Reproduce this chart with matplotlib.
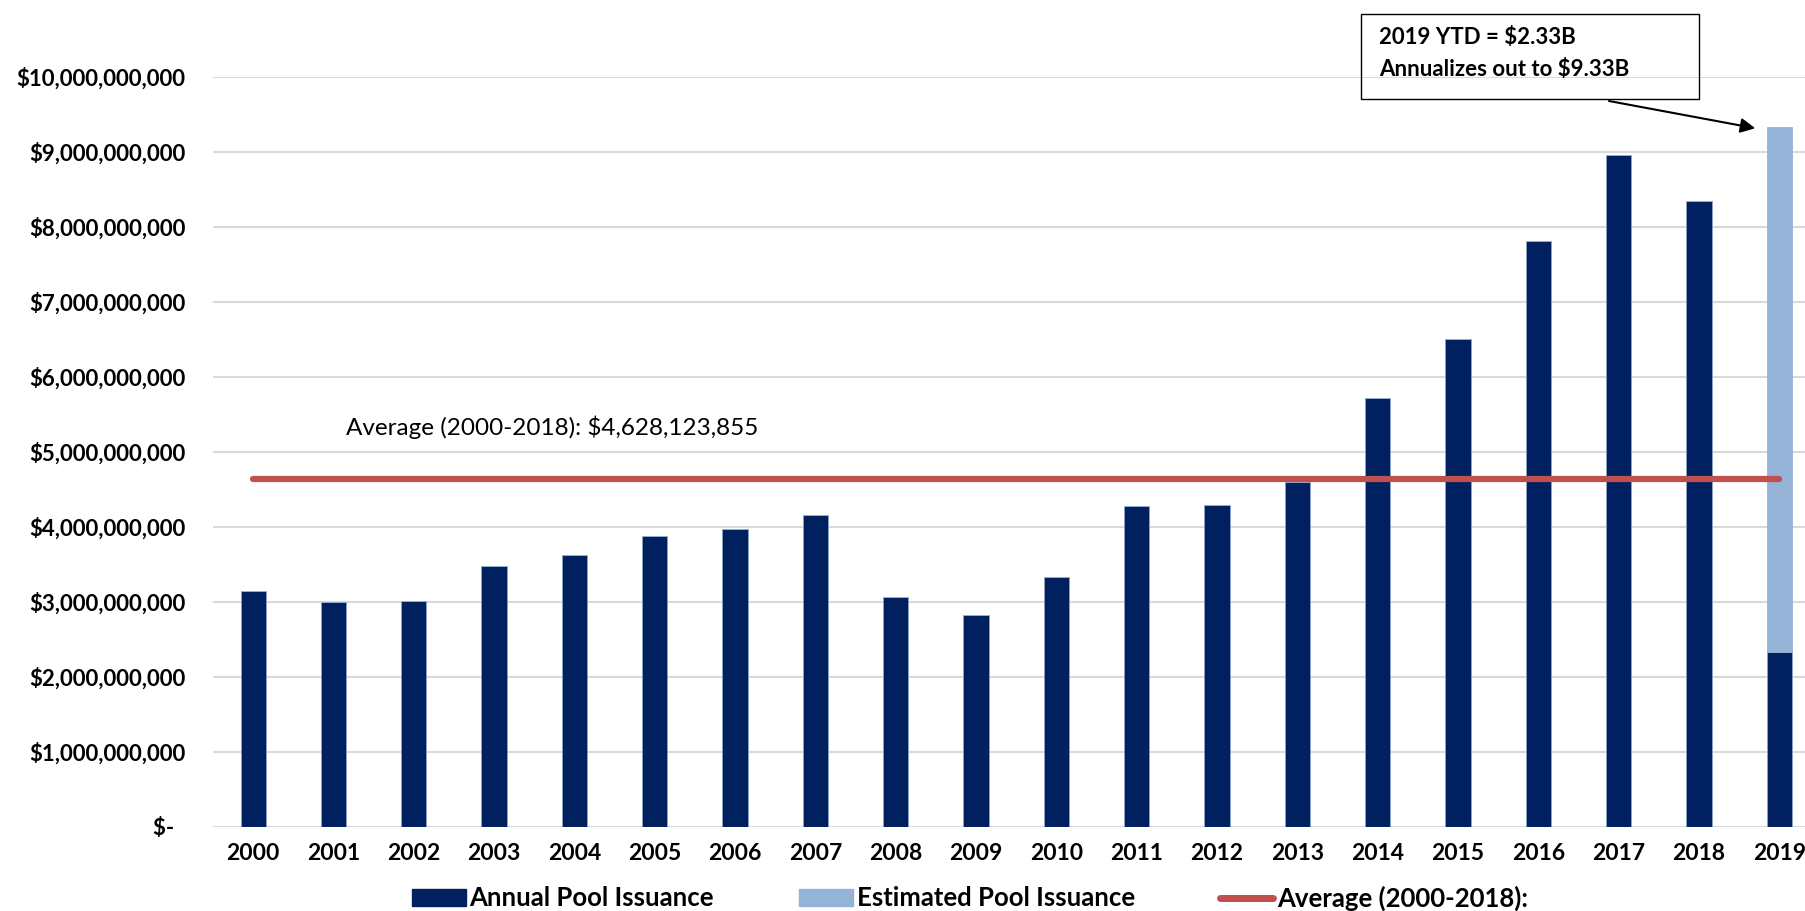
import matplotlib
matplotlib.use("Agg")
import matplotlib.pyplot as plt
from matplotlib.patches import Patch, Rectangle
from matplotlib.lines import Line2D
import numpy as np

years = [str(y) for y in range(2000, 2020)]
annual = [3.14e9, 2.99e9, 3.01e9, 3.47e9, 3.62e9, 3.87e9, 3.97e9, 4.16e9, 3.06e9, 2.82e9,
          3.33e9, 4.27e9, 4.29e9, 4.60e9, 5.72e9, 6.50e9, 7.81e9, 8.95e9, 8.34e9, 2.33e9]
estimated = [0, 0, 0, 0, 0, 0, 0, 0, 0, 0, 0, 0, 0, 0, 0, 0, 0, 0, 0, 7.00e9]
average = 4628123855
yticks = [0, 1e9, 2e9, 3e9, 4e9, 5e9, 6e9, 7e9, 8e9, 9e9, 10e9]
avg_label = "Average (2000-2018): $4,628,123,855"
note_lines = ["2019 YTD = $2.33B", "Annualizes out to $9.33B"]

DARK = "#012060"
LIGHT = "#95B3D7"
RED = "#C0504D"
GRID = "#D9D9D9"

plt.rcParams['font.family'] = ['Lato', 'DejaVu Sans']

W, H = 1805, 911
fig = plt.figure(figsize=(W / 100, H / 100), dpi=100)
ax = fig.add_axes([213 / W, 1 - 826.5 / H, 1 - 213 / W, (826.5 - 76.5) / H])

x = np.arange(len(years))
bw = 0.315
ax.bar(x, annual, width=bw, color=DARK, edgecolor="#8EA3C8", linewidth=0.6, zorder=3)
ax.bar(x, estimated, width=bw, bottom=annual, color=LIGHT, edgecolor=LIGHT, linewidth=0.6, zorder=3)
ax.plot([0, len(years) - 1], [average, average], color=RED, lw=4.5, solid_capstyle='round', zorder=4)

ax.set_xlim(-0.5, (W - 253.7) / 80.3)
ax.set_ylim(0, 10e9)
ax.set_yticks(yticks)
ax.set_yticklabels(["$-  "] + [f"${v:,.0f}" for v in yticks[1:]])
ax.set_xticks(x)
ax.set_xticklabels(years)
ax.grid(axis='y', color=GRID, lw=1.5, zorder=0)
ax.set_axisbelow(True)
for s in ax.spines.values():
    s.set_visible(False)
ax.tick_params(axis='both', length=0)
ax.tick_params(axis='y', pad=20, labelsize=16)
ax.tick_params(axis='x', pad=12, labelsize=16.5)
for lbl in ax.get_xticklabels() + ax.get_yticklabels():
    lbl.set_fontweight('bold')

ax.text(1.16, 5.33e9, avg_label, fontsize=17.5, va='center', ha='left', color='black')

# annotation box
fig.add_artist(Rectangle((1361 / W, 1 - 99 / H), (1699 - 1361) / W, 85 / H,
                         transform=fig.transFigure, fill=False, ec='black', lw=1))
fig.text(1379 / W, 1 - 37 / H, note_lines[0], fontsize=16, fontweight='bold', va='center', ha='left')
fig.text(1379 / W, 1 - 69 / H, note_lines[1], fontsize=16, fontweight='bold', va='center', ha='left')
ax.annotate("", xy=(18.70, 9.31e9), xycoords='data', xytext=(1609, H - 101),
            textcoords='figure pixels', annotation_clip=False,
            arrowprops=dict(arrowstyle='-|>', color='black', lw=1.5, mutation_scale=22,
                            shrinkA=0, shrinkB=0))

handles = [Patch(color=DARK), Patch(color=LIGHT), Line2D([], [], color=RED, lw=5, solid_capstyle='round')]
labels = ["Annual Pool Issuance", "Estimated Pool Issuance", "Average (2000-2018):"]
leg = fig.legend(handles, labels, loc='center', bbox_to_anchor=(970 / W, 1 - 898 / H), ncol=3,
                 frameon=False, handlelength=2.1, handleheight=0.6, handletextpad=0.15,
                 columnspacing=3.3, prop={'weight': 'bold', 'size': 18.5})

fig.savefig("out.png", dpi=100)
